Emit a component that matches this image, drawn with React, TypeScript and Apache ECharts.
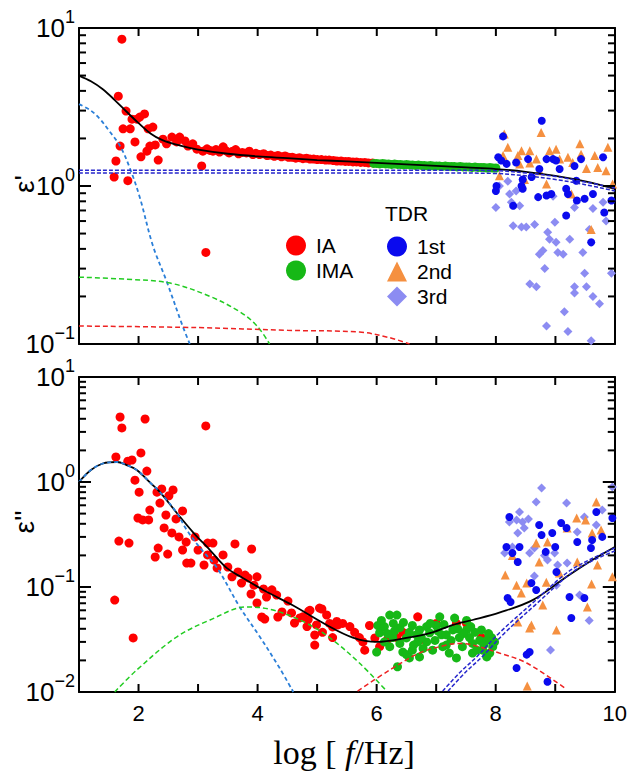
import React, { useEffect, useRef } from 'react';
import * as echarts from 'echarts';

// ---------------- data (log f, epsilon) ----------------
// Top panel: epsilon'
const topIA: number[][] = [
  [1.59, 1.14], [1.62, 1.44], [1.66, 3.7], [1.69, 1.79], [1.72, 8.5], [1.74, 2.3], [1.79, 2.98], [1.82, 1.08],
  [1.86, 2.3], [1.89, 2.65], [1.94, 1.9], [1.97, 2.65], [2.02, 2.73], [2.04, 1.53], [2.1, 2.86], [2.14, 1.66],
  [2.16, 2.3], [2.19, 1.79], [2.24, 2.36], [2.28, 1.82], [2.33, 1.46], [2.41, 1.98], [2.47, 1.85], [2.56, 2.04],
  [2.64, 1.9], [2.69, 2.04], [2.78, 1.93], [2.83, 1.79], [2.91, 1.85], [2.98, 1.71], [3.06, 1.34], [3.08, 1.66],
  [3.13, 0.38], [3.15, 1.72], [3.2, 1.68], [3.25, 1.66], [3.3, 1.7], [3.36, 1.64], [3.42, 1.77], [3.47, 1.67],
  [3.52, 1.62], [3.58, 1.66], [3.63, 1.7], [3.68, 1.6], [3.74, 1.63], [3.81, 1.62], [3.86, 1.66], [3.92, 1.58],
  [3.97, 1.61], [4.03, 1.58], [4.1, 1.6], [4.16, 1.56], [4.22, 1.57], [4.28, 1.54], [4.34, 1.56], [4.4, 1.53],
  [4.46, 1.55], [4.52, 1.52], [4.58, 1.52], [4.64, 1.5], [4.7, 1.51], [4.76, 1.49], [4.82, 1.5], [4.88, 1.48],
  [4.94, 1.48], [5.0, 1.47], [5.07, 1.47], [5.14, 1.46], [5.2, 1.46], [5.27, 1.45], [5.33, 1.44], [5.4, 1.44],
  [5.47, 1.43], [5.53, 1.43], [5.6, 1.42], [5.66, 1.42], [5.73, 1.41], [5.8, 1.41], [5.86, 1.4], [5.93, 1.4],
];
const topIMA: number[][] = [
  [5.95, 1.39], [6.0, 1.39], [6.05, 1.38], [6.1, 1.39], [6.15, 1.38], [6.2, 1.38], [6.25, 1.37], [6.3, 1.38],
  [6.35, 1.37], [6.4, 1.37], [6.45, 1.36], [6.5, 1.37], [6.55, 1.36], [6.6, 1.36], [6.65, 1.35], [6.7, 1.36],
  [6.75, 1.35], [6.8, 1.35], [6.85, 1.34], [6.9, 1.35], [6.95, 1.34], [7.0, 1.34], [7.05, 1.34], [7.1, 1.33],
  [7.15, 1.34], [7.2, 1.33], [7.25, 1.33], [7.3, 1.33], [7.35, 1.32], [7.4, 1.33], [7.45, 1.32], [7.5, 1.32],
  [7.55, 1.32], [7.6, 1.31], [7.65, 1.32], [7.7, 1.31], [7.75, 1.31], [7.8, 1.31], [7.85, 1.3], [7.9, 1.31],
  [7.95, 1.3], [8.0, 1.3],
];
const topTDR1: number[][] = [
  [8.77, 2.59], [8.12, 2.06], [8.04, 1.52], [8.09, 1.45], [8.0, 0.93], [8.43, 1.0], [8.45, 0.96], [8.54, 1.48],
  [8.6, 1.14], [8.29, 0.75], [8.71, 0.85], [8.85, 0.87], [8.93, 0.89], [8.96, 1.48], [9.01, 1.45], [9.18, 0.96],
  [9.18, 0.65], [9.32, 1.34], [9.35, 1.08], [9.36, 0.81], [9.49, 0.83], [9.63, 0.89], [9.43, 1.48], [9.6, 0.44],
  [9.82, 0.68], [9.94, 0.81], [9.8, 1.52], [8.18, 1.38], [8.34, 1.41], [8.73, 1.28], [8.85, 1.48], [9.21, 0.89],
  [8.01, 1.0], [8.45, 1.1], [9.07, 1.28],
];
const topTDR2: number[][] = [
  [8.14, 2.13], [8.76, 2.18], [8.2, 1.76], [8.43, 1.67], [8.57, 1.67], [8.12, 1.56], [8.37, 1.56], [8.68, 1.48],
  [8.9, 1.67], [9.01, 1.71], [9.07, 1.48], [9.21, 1.52], [9.29, 1.41], [9.41, 1.85], [9.43, 1.59], [9.66, 1.56],
  [9.88, 1.76], [9.71, 1.31], [9.85, 1.25], [9.6, 0.53], [8.06, 1.16], [8.48, 1.1], [8.85, 1.03], [8.73, 1.25],
  [9.27, 0.89], [9.52, 1.29], [8.57, 1.4], [9.96, 1.03], [8.4, 1.38],
];
const topTDR3: number[][] = [
  [8.0, 0.73], [8.06, 1.0], [8.2, 1.07], [8.23, 0.89], [8.26, 0.79], [8.4, 0.75], [8.29, 0.56], [8.43, 0.55],
  [8.51, 0.55], [8.65, 0.57], [8.73, 0.37], [8.79, 0.39], [8.87, 0.51], [8.9, 0.46], [8.99, 0.59], [9.01, 0.44],
  [9.04, 0.38], [9.13, 0.37], [9.24, 0.46], [8.82, 0.3], [8.57, 0.24], [8.68, 0.23], [9.15, 0.16], [8.85, 0.13],
  [9.21, 0.12], [9.32, 0.23], [9.32, 0.21], [9.49, 0.28], [9.52, 0.23], [9.63, 0.2], [9.74, 0.18], [9.6, 0.105],
  [9.46, 0.38], [9.85, 0.6], [9.94, 0.28], [9.32, 0.73], [9.63, 0.72], [8.96, 0.86], [9.57, 0.53], [9.8, 0.79],
  [8.34, 0.93],
];
const topFit: number[][] = [
  [1, 5.0], [1.2, 4.6], [1.4, 4.1], [1.6, 3.5], [1.8, 2.95], [2.0, 2.5], [2.2, 2.15], [2.4, 1.95], [2.7, 1.8],
  [3.0, 1.7], [3.5, 1.6], [4, 1.54], [4.5, 1.5], [5, 1.46], [5.5, 1.43], [6, 1.4], [6.5, 1.37], [7, 1.34],
  [7.5, 1.31], [8, 1.28], [8.5, 1.23], [9, 1.16], [9.5, 1.07], [10, 0.96],
];
const topComp1: number[][] = [
  [1, 3.3], [1.2, 3.0], [1.35, 2.66], [1.5, 2.25], [1.69, 1.79], [1.86, 1.28], [2.02, 0.85], [2.24, 0.42],
  [2.47, 0.25], [2.74, 0.13], [2.86, 0.1],
];
const topComp2: number[][] = [
  [1, 0.265], [1.8, 0.257], [2.53, 0.243], [3.2, 0.2], [3.7, 0.16], [3.99, 0.13], [4.2, 0.1],
];
const topComp3: number[][] = [
  [1, 0.13], [3, 0.127], [4.5, 0.122], [5.71, 0.119], [6.2, 0.11], [6.55, 0.1],
];
const topInfA: number[][] = [
  [1, 1.26], [7, 1.26], [8, 1.25], [8.5, 1.21], [9, 1.15], [9.5, 1.06], [10, 0.97],
];
const topInfB: number[][] = [
  [1, 1.21], [7, 1.21], [8, 1.2], [8.5, 1.16], [9, 1.1], [9.5, 1.02], [10, 0.93],
];

// Bottom panel: epsilon''
const botIA: number[][] = [
  [1.6, 0.075], [1.62, 1.73], [1.67, 0.274], [1.69, 4.16], [1.72, 3.27], [1.82, 1.58], [1.84, 0.262], [1.89, 1.62],
  [1.91, 0.0327], [1.94, 1.04], [1.99, 0.454], [2.01, 0.8], [2.04, 1.89], [2.07, 0.435], [2.11, 3.98], [2.14, 1.27],
  [2.17, 0.435], [2.19, 0.54], [2.28, 0.193], [2.31, 0.8], [2.33, 0.235], [2.36, 0.63], [2.39, 0.86], [2.43, 0.365],
  [2.46, 0.485], [2.49, 0.206], [2.51, 0.74], [2.56, 0.327], [2.58, 0.84], [2.63, 0.445], [2.68, 0.3], [2.74, 0.53],
  [2.74, 0.225], [2.8, 0.268], [2.81, 0.169], [2.88, 0.169], [2.95, 0.3], [3.0, 0.225], [3.1, 0.162], [3.13, 3.42],
  [3.16, 0.262], [3.16, 0.202], [3.25, 0.262], [3.27, 0.18], [3.32, 0.152], [3.42, 0.202], [3.5, 0.155], [3.57, 0.125],
  [3.62, 0.257], [3.67, 0.139], [3.73, 0.109], [3.79, 0.13], [3.84, 0.122], [3.89, 0.0858], [3.9, 0.23], [3.94, 0.104],
  [3.99, 0.125], [3.99, 0.0704], [4.07, 0.0518], [4.1, 0.0957], [4.12, 0.0495], [4.15, 0.0803], [4.24, 0.094], [4.32, 0.0837],
  [4.34, 0.0518], [4.41, 0.0578], [4.51, 0.0735], [4.57, 0.0566], [4.62, 0.0454], [4.71, 0.0507], [4.76, 0.052], [4.83, 0.042],
  [4.85, 0.049], [4.86, 0.059], [4.88, 0.06], [4.96, 0.028], [4.96, 0.0349], [4.99, 0.0435], [5.04, 0.063], [5.08, 0.0617],
  [5.09, 0.037], [5.16, 0.0541], [5.21, 0.045], [5.26, 0.033], [5.26, 0.0417], [5.33, 0.047], [5.35, 0.0435], [5.43, 0.045],
  [5.55, 0.042], [5.63, 0.037], [5.71, 0.033], [5.77, 0.03], [5.8, 0.025], [5.88, 0.043], [5.97, 0.0327], [6.05, 0.027],
  [6.17, 0.031], [6.34, 0.033], [6.44, 0.037], [6.69, 0.052], [6.72, 0.031], [7.0, 0.045], [7.34, 0.045], [7.51, 0.045],
  [7.76, 0.033],
];
const botIMA: number[][] = [
  [6.0, 0.024], [6.02, 0.043], [6.05, 0.0366], [6.13, 0.042], [6.13, 0.03], [6.22, 0.054], [6.22, 0.027], [6.27, 0.033],
  [6.34, 0.054], [6.35, 0.0174], [6.39, 0.041], [6.39, 0.029], [6.44, 0.024], [6.5, 0.0227], [6.5, 0.0327], [6.55, 0.037],
  [6.55, 0.0211], [6.6, 0.025], [6.6, 0.043], [6.67, 0.035], [6.69, 0.03], [6.72, 0.039], [6.72, 0.0216], [6.84, 0.03],
  [6.84, 0.042], [6.89, 0.0366], [6.94, 0.025], [7.0, 0.043], [7.06, 0.052], [7.09, 0.035], [7.11, 0.027], [7.17, 0.028],
  [7.17, 0.035], [7.22, 0.0235], [7.28, 0.039], [7.31, 0.0506], [7.34, 0.0211], [7.39, 0.033], [7.44, 0.027], [7.51, 0.039],
  [7.51, 0.048], [7.56, 0.033], [7.61, 0.029], [7.61, 0.0235], [7.68, 0.025], [7.73, 0.031], [7.76, 0.039], [7.78, 0.025],
  [7.85, 0.031], [7.85, 0.0216], [7.9, 0.0235], [7.93, 0.033], [7.95, 0.027], [6.08, 0.048], [6.28, 0.045], [6.45, 0.046],
  [6.62, 0.028], [6.78, 0.026], [6.98, 0.031], [7.03, 0.038], [7.25, 0.031], [7.45, 0.036], [7.65, 0.037], [7.8, 0.028],
  [7.98, 0.03], [6.3, 0.038], [6.9, 0.045], [7.13, 0.044], [7.36, 0.04], [7.58, 0.042], [7.88, 0.036], [6.18, 0.036],
  [6.75, 0.033],
];
const botTDR1: number[][] = [
  [8.23, 0.464], [8.18, 0.24], [8.28, 0.211], [8.4, 0.24], [8.37, 0.173], [8.2, 0.0785], [8.25, 0.072], [8.6, 0.109],
  [8.68, 0.0936], [8.73, 0.389], [8.77, 0.313], [8.84, 0.216], [8.95, 0.327], [9.0, 0.24], [9.1, 0.407], [9.19, 0.365],
  [9.37, 0.268], [9.6, 0.235], [9.62, 0.28], [9.69, 0.518], [9.79, 0.3], [9.96, 0.454], [9.24, 0.0803], [9.27, 0.0507],
  [9.49, 0.0785], [8.57, 0.024], [8.52, 0.0227], [8.35, 0.0169], [9.02, 0.139], [8.87, 0.0125],
];
const botTDR2: number[][] = [
  [9.69, 0.645], [9.36, 0.454], [9.51, 0.435], [9.2, 0.365], [9.62, 0.327], [9.77, 0.349], [8.68, 0.262], [8.87, 0.268],
  [8.73, 0.173], [9.37, 0.173], [9.71, 0.162], [8.16, 0.13], [8.35, 0.104], [8.52, 0.109], [8.43, 0.0877], [8.85, 0.111],
  [9.07, 0.136], [9.61, 0.107], [9.96, 0.125], [8.79, 0.0674], [9.54, 0.0645], [8.37, 0.0464], [8.6, 0.0435], [8.57, 0.0407],
  [9.02, 0.039], [8.28, 0.2], [8.53, 0.0114],
];
const botTDR3: number[][] = [
  [8.77, 0.877], [8.68, 0.645], [9.19, 0.63], [8.4, 0.518], [8.23, 0.417], [8.35, 0.435], [8.45, 0.417], [8.55, 0.444],
  [8.48, 0.365], [8.37, 0.327], [8.15, 0.211], [8.28, 0.24], [8.57, 0.211], [8.65, 0.235], [8.82, 0.2], [8.87, 0.181],
  [8.99, 0.211], [9.04, 0.162], [9.2, 0.169], [9.37, 0.334], [9.49, 0.464], [9.69, 0.389], [9.79, 0.541], [9.96, 0.896],
  [8.65, 0.127], [9.02, 0.104], [9.41, 0.0837], [9.46, 0.08], [9.57, 0.048], [8.92, 0.0251],
];
const botFit: number[][] = [
  [1, 1.0], [1.2, 1.3], [1.4, 1.5], [1.64, 1.55], [1.8, 1.45], [1.97, 1.3], [2.2, 0.98], [2.36, 0.8], [2.64, 0.51],
  [2.92, 0.33], [3.2, 0.225], [3.48, 0.152], [3.75, 0.122], [4.15, 0.09], [4.59, 0.067], [5.16, 0.0435], [5.6, 0.033],
  [6.0, 0.03], [6.5, 0.0327], [6.94, 0.037], [7.28, 0.0435], [7.61, 0.0485], [8.06, 0.057], [8.62, 0.075],
  [9.19, 0.125], [9.57, 0.173], [10, 0.24],
];
const botComp1: number[][] = [
  [1, 1.0], [1.2, 1.3], [1.4, 1.5], [1.64, 1.55], [1.8, 1.45], [1.97, 1.3], [2.2, 0.98], [2.36, 0.8], [2.64, 0.51],
  [2.81, 0.349], [3.05, 0.23], [3.32, 0.152], [3.7, 0.0645], [4.04, 0.0334], [4.37, 0.0169], [4.6, 0.01],
];
const botComp2: number[][] = [
  [1.6, 0.01], [1.97, 0.0162], [2.64, 0.0334], [3.2, 0.0485], [3.82, 0.0645], [4.26, 0.0604], [4.83, 0.045],
  [5.26, 0.0313], [5.71, 0.0189], [6.17, 0.0102],
];
const botComp3: number[][] = [
  [5.68, 0.0102], [6.22, 0.0162], [6.72, 0.0235], [7.17, 0.028], [7.4, 0.029], [7.61, 0.028], [8.06, 0.0235],
  [8.52, 0.0189], [9.19, 0.0106],
];
const botCondA: number[][] = [
  [7.11, 0.0102], [7.39, 0.0152], [7.68, 0.0216], [8.06, 0.0365], [8.62, 0.0704], [9.19, 0.136], [9.57, 0.181], [10, 0.235],
];
const botCondB: number[][] = [
  [7.2, 0.0102], [7.48, 0.0152], [7.77, 0.0216], [8.15, 0.0365], [8.7, 0.0704], [9.27, 0.136], [9.65, 0.181], [10, 0.22],
];

const legendLeft = ['IA', 'IMA'];
const legendRight = ['1st', '2nd', '3rd'];

// tick values (axis decorations)
const xTickValues = [2, 3, 4, 5, 6, 7, 8, 9];
const decades = (lo: number, hi: number) => {
  const out: number[] = [];
  for (let e = lo; e <= hi; e++) out.push(Math.pow(10, e));
  return out;
};
const subDecades = (lo: number, hi: number) => {
  const out: number[] = [];
  for (let e = lo; e < hi; e++) for (let k = 2; k <= 9; k++) out.push(k * Math.pow(10, e));
  return out;
};

// ---------------- styles ----------------
const SANS = '"Liberation Sans", Arial, Helvetica, sans-serif';
const SERIF = '"Liberation Serif", "Times New Roman", serif';
const C = {
  ia: '#ff0000',
  ima: '#16b816',
  t1: '#0a0aee',
  t2: '#f59040',
  t3: '#8c8cf2',
  c1: '#2b7fd8',
  c2: '#22cc22',
  c3: '#ee2222',
  inf: '#2626cc',
};

const supLabel = {
  formatter: (v: number) => {
    const e = Math.round(Math.log10(v));
    return `{b|10}{s|${e < 0 ? '\u2212' + -e : e}}`;
  },
  margin: 4,
  rich: {
    b: { fontSize: 26, fontFamily: SANS, color: '#000', lineHeight: 40 },
    s: { fontSize: 18, fontFamily: SANS, color: '#000', lineHeight: 18, verticalAlign: 'top' },
  },
};

function xAxes(grid: number, labels: boolean) {
  const base = () => ({
    gridIndex: grid,
    type: 'value',
    min: 1,
    max: 10,
    interval: 1,
    splitLine: { show: false },
    axisLine: { show: true, onZero: false, lineStyle: { color: '#000', width: 2 } },
    axisTick: { show: false },
  });
  return [
    {
      ...base(),
      position: 'bottom',
      axisLabel: labels
        ? {
            show: true,
            margin: 10,
            fontSize: 22,
            fontFamily: SANS,
            color: '#000',
            formatter: (v: number) => (v % 2 === 0 ? String(v) : ''),
          }
        : { show: false },
    },
    { ...base(), position: 'top', axisLabel: { show: false } },
  ];
}

function yAxes(grid: number, min: number, max: number) {
  const major = () => ({
    gridIndex: grid,
    type: 'log',
    logBase: 10,
    min,
    max,
    splitLine: { show: false },
    axisLine: { show: true, onZero: false, lineStyle: { color: '#000', width: 2 } },
    axisTick: { show: false },
  });
  return [
    { ...major(), position: 'left', axisLabel: supLabel },
    { ...major(), position: 'right', axisLabel: { show: false } },
  ];
}

function scatter(name: string, data: number[][], xi: number, yi: number, symbol: string, color: string, size: number) {
  return {
    name,
    type: 'scatter',
    data,
    xAxisIndex: xi,
    yAxisIndex: yi,
    symbol,
    symbolSize: size,
    itemStyle: { color, opacity: 1 },
    z: 2,
  };
}

function line(name: string, data: number[][], xi: number, yi: number, color: string, type: any, width: number) {
  return {
    name,
    type: 'line',
    data,
    xAxisIndex: xi,
    yAxisIndex: yi,
    showSymbol: false,
    symbol: 'none',
    smooth: 0.35,
    lineStyle: { color, type, width },
    z: 3,
  };
}

// inward tick marks: rect symbols placed at axis positions by the axis scales
function ticks(name: string, data: number[][], xi: number, yi: number, size: number[], offset: number[]) {
  return {
    name,
    type: 'scatter',
    data,
    xAxisIndex: xi,
    yAxisIndex: yi,
    symbol: 'rect',
    symbolSize: size,
    symbolOffset: offset,
    itemStyle: { color: '#000', opacity: 1 },
    clip: false,
    silent: true,
    z: 10,
  };
}

function panelTicks(tag: string, xi: number, yi: number, yMin: number, yMax: number, lo: number, hi: number) {
  const maj = decades(lo, hi);
  const min = subDecades(lo, hi);
  return [
    ticks(`${tag} major left`, maj.map((v) => [1, v]), xi, yi, [12, 2], [6, 0]),
    ticks(`${tag} major right`, maj.map((v) => [10, v]), xi, yi, [12, 2], [-6, 0]),
    ticks(`${tag} minor left`, min.map((v) => [1, v]), xi, yi, [7, 2], [3.5, 0]),
    ticks(`${tag} minor right`, min.map((v) => [10, v]), xi, yi, [7, 2], [-3.5, 0]),
    ticks(`${tag} x bottom`, xTickValues.map((v) => [v, yMin]), xi, yi, [2, 8], [0, -4]),
    ticks(`${tag} x top`, xTickValues.map((v) => [v, yMax]), xi, yi, [2, 8], [0, 4]),
  ];
}

export default function App() {
  const ref = useRef<HTMLDivElement>(null);

  useEffect(() => {
    if (!ref.current) return;
    const chart = echarts.init(ref.current, undefined, { renderer: 'svg' });
    const legendText = { fontSize: 21, fontFamily: SANS, color: '#000', padding: [0, 0, 0, 5] };
    const option: any = {
      animation: false,
      backgroundColor: '#fff',
      grid: [
        { left: 79, top: 28, width: 536, height: 316 },
        { left: 79, top: 377, width: 536, height: 315 },
      ],
      xAxis: [...xAxes(0, false), ...xAxes(1, true)],
      yAxis: [...yAxes(0, 0.1, 10), ...yAxes(1, 0.01, 10)],
      legend: [
        {
          data: legendLeft,
          orient: 'vertical',
          left: 281,
          top: 230,
          itemWidth: 20,
          itemHeight: 20,
          itemGap: 4,
          selectedMode: false,
          textStyle: legendText,
        },
        {
          data: legendRight,
          orient: 'vertical',
          left: 382,
          top: 231,
          itemWidth: 20,
          itemHeight: 20,
          itemGap: 4,
          selectedMode: false,
          textStyle: legendText,
        },
      ],
      graphic: [
        {
          type: 'text',
          left: 385,
          top: 203,
          style: { text: 'TDR', fontSize: 21, fontFamily: SANS, fill: '#000' },
        },
        {
          type: 'text',
          x: 24,
          y: 184,
          rotation: Math.PI / 2,
          style: { text: "\u03b5'", fontSize: 28, fontFamily: SANS, fill: '#000', align: 'center', verticalAlign: 'middle' },
        },
        {
          type: 'text',
          x: 24,
          y: 522,
          rotation: Math.PI / 2,
          style: { text: "\u03b5''", fontSize: 28, fontFamily: SANS, fill: '#000', align: 'center', verticalAlign: 'middle' },
        },
        {
          type: 'text',
          x: 344,
          y: 752,
          style: {
            text: '{n|log [ }{i|f}{n|/Hz]}',
            align: 'center',
            verticalAlign: 'middle',
            rich: {
              n: { fontSize: 34, fontFamily: SERIF, fill: '#000' },
              i: { fontSize: 34, fontFamily: SERIF, fontStyle: 'italic', fill: '#000' },
            },
          },
        },
      ],
      series: [
        scatter('IA', topIA, 0, 0, 'circle', C.ia, 9),
        scatter('IMA', topIMA, 0, 0, 'circle', C.ima, 9),
        scatter('3rd', topTDR3, 0, 0, 'diamond', C.t3, 9),
        scatter('2nd', topTDR2, 0, 0, 'triangle', C.t2, 9),
        scatter('1st', topTDR1, 0, 0, 'circle', C.t1, 8),
        line('fit top', topFit, 0, 0, '#000', 'solid', 1.8),
        line('comp1 top', topComp1, 0, 0, C.c1, [4, 3], 1.8),
        line('comp2 top', topComp2, 0, 0, C.c2, [5, 3], 1.5),
        line('comp3 top', topComp3, 0, 0, C.c3, [5, 3], 1.5),
        line('inf A top', topInfA, 0, 0, C.inf, [4, 2], 1.5),
        line('inf B top', topInfB, 0, 0, C.inf, [4, 2], 1.5),
        ...panelTicks('top', 0, 0, 0.1, 10, -1, 1),

        scatter('IA', botIA, 2, 2, 'circle', C.ia, 9),
        scatter('IMA', botIMA, 2, 2, 'circle', C.ima, 9),
        scatter('3rd', botTDR3, 2, 2, 'diamond', C.t3, 9),
        scatter('2nd', botTDR2, 2, 2, 'triangle', C.t2, 9),
        scatter('1st', botTDR1, 2, 2, 'circle', C.t1, 8),
        line('fit bottom', botFit, 2, 2, '#000', 'solid', 1.8),
        line('comp1 bottom', botComp1, 2, 2, C.c1, [4, 3], 1.8),
        line('comp2 bottom', botComp2, 2, 2, C.c2, [5, 3], 1.5),
        line('comp3 bottom', botComp3, 2, 2, C.c3, [5, 3], 1.5),
        line('cond A bottom', botCondA, 2, 2, C.inf, [4, 2], 1.5),
        line('cond B bottom', botCondB, 2, 2, C.inf, [4, 2], 1.5),
        ...panelTicks('bottom', 2, 2, 0.01, 10, -2, 1),
      ],
    };
    chart.setOption(option);
    return () => chart.dispose();
  }, []);

  return (
    <div
      ref={ref}
      style={{ position: 'fixed', left: 0, top: 0, width: 630, height: 773, background: '#fff' }}
    />
  );
}
